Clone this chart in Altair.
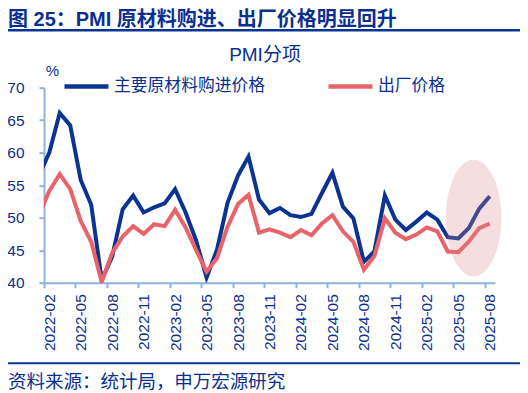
import altair as alt
import pandas as pd

# ---------------- data ----------------
months = [f"{y}-{m:02d}" for y in range(2022, 2026) for m in range(1, 13)][:44]

raw_material = [56.4, 60.0, 66.1, 64.2, 55.8, 52.0, 40.4, 44.0, 51.3, 53.4, 50.8, 51.6,
                52.2, 54.4, 50.8, 46.5, 40.8, 45.1, 52.3, 56.5, 59.4, 52.8, 50.7, 51.5,
                50.4, 50.1, 50.6, 53.8, 56.9, 51.7, 49.9, 43.2, 44.8, 53.4, 49.7, 48.1,
                49.4, 50.8, 49.7, 47.0, 46.8, 48.4, 51.4, 53.3]
ex_factory = [50.3, 54.1, 56.7, 54.4, 49.5, 46.3, 40.1, 44.6, 47.1, 48.7, 47.5, 49.0,
              48.7, 51.2, 48.5, 45.0, 41.7, 43.8, 48.6, 52.1, 53.5, 47.7, 48.2, 47.7,
              47.0, 48.1, 47.3, 49.1, 50.4, 47.9, 46.3, 42.0, 44.1, 49.9, 47.7, 46.7,
              47.4, 48.5, 47.9, 44.8, 44.7, 46.3, 48.4, 49.1]

s_blue = "主要原材料购进价格"
s_red = "出厂价格"
series_names = [s_blue, s_red]

tick_label_idx = list(range(1, 44, 3))
y_ticks = [40, 45, 50, 55, 60, 65, 70]

# highlight ellipse (annotation) centre, in data units
ellipse_idx = [41.46]
ellipse_val = [49.95]

header = "图 25：PMI 原材料购进、出厂价格明显回升"
chart_title = "PMI分项"
unit_label = "%"
source = "资料来源：统计局，申万宏源研究"

# ---------------- styling ----------------
BLUE = "#0b3391"
RED = "#e9646a"
TXT = "#0a2f8f"
AX = "#8db3e2"
FONT = "Liberation Sans, Noto Sans CJK SC"

n = len(months)
df = pd.DataFrame({
    "idx": list(range(n)) * 2,
    "month": months * 2,
    "series": [s_blue] * n + [s_red] * n,
    "value": raw_material + ex_factory,
})

label_array = "[" + ",".join(f"'{m}'" for m in months) + "]"

x_axis = alt.Axis(
    values=tick_label_idx,
    labelExpr=f"{label_array}[datum.value]",
    labelAngle=270,
    tickOffset=-5.245,
    labelOffset=5.245,
    title=None,
    grid=False,
    domainColor=AX,
    domainWidth=2,
    tickColor=AX,
    tickWidth=2,
    tickSize=5,
    labelColor=TXT,
    labelFont=FONT,
    labelFontSize=15.5,
    labelPadding=6,
    labelOverlap=False,
)
y_axis = alt.Axis(
    values=y_ticks,
    title=None,
    grid=False,
    domainColor=AX,
    domainWidth=2,
    tickColor=AX,
    tickWidth=2,
    tickSize=5,
    labelColor=TXT,
    labelFont=FONT,
    labelFontSize=15.5,
    labelPadding=15,
    labelOverlap=False,
)
x_scale = alt.Scale(domain=[0.5, 43.5], nice=False, zero=False)
y_scale = alt.Scale(domain=[40, 70], nice=False, zero=False)
x_enc = alt.X("idx:Q", scale=x_scale, axis=x_axis)
y_enc = alt.Y("value:Q", scale=y_scale, axis=y_axis)

color_enc = alt.Color(
    "series:N",
    scale=alt.Scale(domain=series_names, range=[BLUE, RED]),
    legend=alt.Legend(
        orient="none",
        legendX=18,
        legendY=-26,
        direction="horizontal",
        title=None,
        symbolType="stroke",
        symbolStrokeWidth=4.5,
        symbolSize=1936,
        labelFontSize=16.8,
        labelFont=FONT,
        labelColor=TXT,
        labelOffset=3,
        columnPadding=53,
    ),
)

base = alt.Chart(df)
line_blue = base.transform_filter(alt.datum.series == s_blue).mark_line(
    strokeWidth=4, clip=True).encode(x=x_enc, y=y_enc, color=color_enc)
line_red = base.transform_filter(alt.datum.series == s_red).mark_line(
    strokeWidth=4, clip=True).encode(x=x_enc, y=y_enc, color=color_enc)

ell_df = pd.DataFrame({"idx": ellipse_idx, "value": ellipse_val})
ellipse = alt.Chart(ell_df).mark_point(
    shape="M -0.477 0 A 0.477 1 0 1 1 0.477 0 A 0.477 1 0 1 1 -0.477 0 Z",
    filled=True, fill="#d9868c", opacity=0.27, strokeWidth=0, size=13595,
).encode(x=x_enc, y=y_enc)

one = pd.DataFrame({"a": [0]})


def txt(text, x, y, size, align="left", weight="normal"):
    return alt.Chart(pd.DataFrame({"t": [text]})).mark_text(
        align=align, baseline="alphabetic", font=FONT, fontSize=size,
        fontWeight=weight, color=TXT,
    ).encode(text="t:N", x=alt.value(x), y=alt.value(y))


# positions below are relative to the plot origin (page x=44, y=87.7)
header_txt = txt(header, -36, -61.5, 20, weight="bold")
header_rule = alt.Chart(one).mark_rule(color="#0b3393", strokeWidth=2.5).encode(
    x=alt.value(-42), x2=alt.value(482), y=alt.value(-57.4))
title_txt = txt(chart_title, 221, -26.5, 19, align="center")
unit_txt = txt(unit_label, 8.5, -11.7, 15, align="center")
bottom_rule = alt.Chart(one).mark_rule(color="#0b3393", strokeWidth=2).encode(
    x=alt.value(-42), x2=alt.value(482), y=alt.value(275.6))
source_txt = txt(source, -36, 300.8, 18.5)

chart = alt.layer(
    line_blue, line_red, ellipse,
    header_txt, header_rule, title_txt, unit_txt, bottom_rule, source_txt,
).properties(
    width=451, height=195,
    padding={"left": 36, "top": 79.7, "right": 25, "bottom": 110},
    autosize=alt.AutoSizeParams(type="none"),
).configure_view(stroke=None)

chart.save("out.html", embed_options={"renderer": "svg", "actions": False})
